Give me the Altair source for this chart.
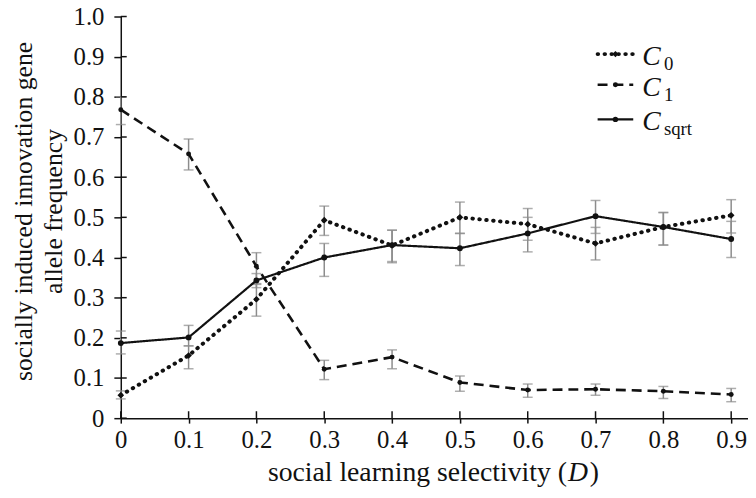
import altair as alt
import pandas as pd

D = [0.0, 0.1, 0.2, 0.3, 0.4, 0.5, 0.6, 0.7, 0.8, 0.9]
c0 = [0.057, 0.156, 0.296, 0.493, 0.43, 0.50, 0.483, 0.435, 0.476, 0.505]
c0_lo = [0.048, 0.123, 0.254, 0.455, 0.39, 0.46, 0.443, 0.394, 0.431, 0.461]
c0_hi = [0.068, 0.18, 0.335, 0.528, 0.468, 0.538, 0.522, 0.475, 0.512, 0.544]
c1 = [0.768, 0.658, 0.378, 0.122, 0.152, 0.089, 0.07, 0.072, 0.067, 0.059]
c1_lo = [0.731, 0.618, 0.333, 0.096, 0.123, 0.067, 0.052, 0.057, 0.049, 0.041]
c1_hi = [0.80, 0.695, 0.412, 0.144, 0.17, 0.105, 0.085, 0.085, 0.079, 0.074]
cs = [0.187, 0.201, 0.343, 0.40, 0.431, 0.423, 0.46, 0.503, 0.476, 0.446]
cs_lo = [0.16, 0.18, 0.325, 0.353, 0.387, 0.38, 0.414, 0.46, 0.431, 0.40]
cs_hi = [0.217, 0.231, 0.36, 0.435, 0.468, 0.46, 0.50, 0.542, 0.512, 0.49]

y_ticks = [round(i * 0.1, 1) for i in range(11)]
x_ticks = D

FONT = "Liberation Serif"
BLACK = "#111111"
GREY = "#8c8c8c"

def frame(vals, lo, hi):
    return pd.DataFrame({"D": D, "v": vals, "lo": lo, "hi": hi})

df0, df1, dfs = frame(c0, c0_lo, c0_hi), frame(c1, c1_lo, c1_hi), frame(cs, cs_lo, cs_hi)

xs = alt.Scale(domain=[0, 0.9248], nice=False, zero=False)
ys = alt.Scale(domain=[0, 1], nice=False)

X = alt.X("D:Q", scale=xs, axis=alt.Axis(
    values=x_ticks, labelExpr="datum.value == 0 ? '0' : format(datum.value, '.1f')",
    title=None, grid=False, domainColor=BLACK, domainWidth=1.5, tickColor=BLACK,
    tickWidth=1.5, tickSize=5, labelFont=FONT, labelFontSize=25, labelColor=BLACK,
    labelPadding=5, labelFlush=False))
Y_axis = alt.Axis(
    values=y_ticks, labelExpr="datum.value == 0 ? '0' : format(datum.value, '.1f')",
    title=None, grid=False, domainColor=BLACK, domainWidth=1.5, tickColor=BLACK,
    tickWidth=1.5, tickSize=7, labelFont=FONT, labelFontSize=25, labelColor=BLACK,
    labelPadding=10, labelFlush=False, labelBaseline="middle")

def errbars(df):
    base = alt.Chart(df)
    r = base.mark_rule(color=GREY, strokeWidth=1.5).encode(
        x=X, y=alt.Y("lo:Q", scale=ys, axis=Y_axis), y2="hi:Q")
    t1 = base.mark_tick(color=GREY, orient="horizontal", size=10, thickness=1.5).encode(
        x="D:Q", y="lo:Q")
    t2 = base.mark_tick(color=GREY, orient="horizontal", size=10, thickness=1.5).encode(
        x="D:Q", y="hi:Q")
    return [r, t1, t2]

def series(df, dash, width, shape, size, cap="butt"):
    base = alt.Chart(df)
    line = base.mark_line(color=BLACK, strokeWidth=width, strokeDash=dash, strokeCap=cap).encode(
        x="D:Q", y=alt.Y("v:Q", scale=ys))
    pts = base.mark_point(color=BLACK, filled=True, opacity=1, shape=shape, size=size).encode(
        x="D:Q", y="v:Q")
    return [line, pts]

# inner halves of axis ticks
ytick_df = pd.DataFrame({"t": y_ticks})
xtick_df = pd.DataFrame({"t": x_ticks})
yin = alt.Chart(ytick_df).mark_rule(color=BLACK, strokeWidth=1.5).encode(
    y=alt.Y("t:Q", scale=ys), x=alt.value(0), x2=alt.value(6))
xin = alt.Chart(xtick_df).mark_rule(color=BLACK, strokeWidth=1.5).encode(
    x=alt.X("t:Q", scale=xs), y=alt.value(406), y2=alt.value(399))

# legend
legend_rows = [
    ("0", 38, [0.5, 6.5], 4, "round", "diamond", 40),
    ("1", 69, [10, 6], 2.6, "butt", "circle", 25),
    ("sqrt", 104, [], 2.2, "butt", "circle", 30),
]
leg = []
one = pd.DataFrame({"a": [0]})
for sub, yy, dash, w, cap, shape, size in legend_rows:
    kw = dict(color=BLACK, strokeWidth=w, strokeCap=cap)
    if dash:
        kw["strokeDash"] = dash
    leg.append(alt.Chart(one).mark_rule(**kw).encode(
        x=alt.value(482), x2=alt.value(518), y=alt.value(yy)))
    leg.append(alt.Chart(one).mark_point(color=BLACK, filled=True, opacity=1, shape=shape, size=size).encode(
        x=alt.value(500), y=alt.value(yy)))
    leg.append(alt.Chart(one).mark_text(text="C", font=FONT, fontSize=28, fontStyle="italic",
                                        align="left", baseline="alphabetic", color=BLACK).encode(
        x=alt.value(527), y=alt.value(yy + 11)))
    leg.append(alt.Chart(one).mark_text(text=sub, font=FONT, fontSize=19,
                                        align="left", baseline="alphabetic", color=BLACK).encode(
        x=alt.value(549), y=alt.value(yy + 16)))

# axis titles
txt = []
txt.append(alt.Chart(one).mark_text(text="socially induced innovation gene", font=FONT, fontSize=26,
                                    angle=270, align="center", baseline="middle", color=BLACK).encode(
    x=alt.value(-98), y=alt.value(197)))
txt.append(alt.Chart(one).mark_text(text="allele frequency", font=FONT, fontSize=26,
                                    angle=270, align="center", baseline="middle", color=BLACK).encode(
    x=alt.value(-67), y=alt.value(197)))
txt.append(alt.Chart(one).mark_text(text="social learning selectivity (", font=FONT, fontSize=28,
                                    align="right", baseline="alphabetic", color=BLACK).encode(
    x=alt.value(451), y=alt.value(470)))
txt.append(alt.Chart(one).mark_text(text="D", font=FONT, fontSize=28, fontStyle="italic",
                                    align="left", baseline="alphabetic", color=BLACK).encode(
    x=alt.value(452), y=alt.value(470)))
txt.append(alt.Chart(one).mark_text(text=")", font=FONT, fontSize=28,
                                    align="left", baseline="alphabetic", color=BLACK).encode(
    x=alt.value(474), y=alt.value(470)))

layers = (errbars(df0) + errbars(df1) + errbars(dfs)
          + series(df0, [0.5, 6.5], 4, "diamond", 45, "round")
          + series(df1, [10, 6], 2.6, "circle", 25)
          + series(dfs, [1, 0], 2.2, "circle", 35)
          + [yin, xin] + leg + txt)

chart = alt.layer(*layers).properties(
    width=634, height=406,
    background="white",
    autosize=alt.AutoSizeParams(type="none"),
    padding={"left": 114, "top": 6, "right": 0, "bottom": 70},
).configure_view(stroke=None)

chart.save("out.html", embed_options={"renderer": "svg", "actions": False})
